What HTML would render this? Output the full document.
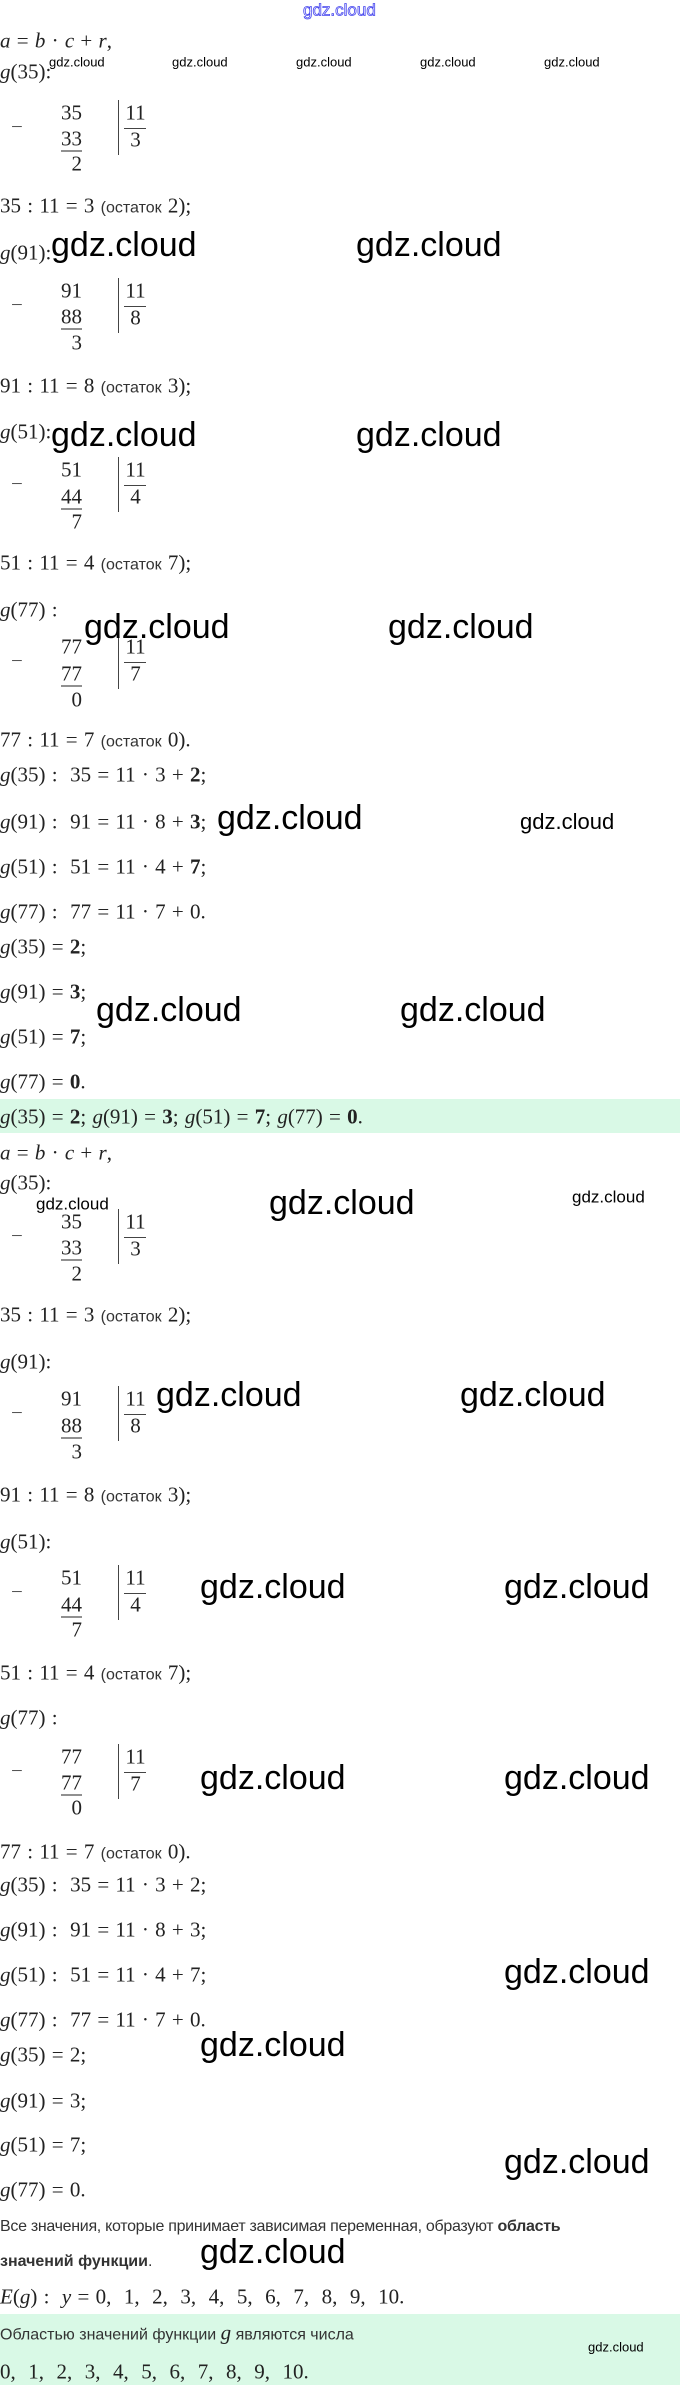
<!DOCTYPE html>
<html><head><meta charset="utf-8">
<style>
html,body{margin:0;padding:0;background:#fff;}
body{width:680px;height:2385px;position:relative;overflow:hidden;}
.t{position:absolute;transform:translateY(-50%);white-space:nowrap;line-height:1;}
.m{font-family:"Liberation Serif",serif;font-size:21px;color:#222;word-spacing:1px;}
.i{font-style:italic;}
.s{font-family:"Liberation Sans",sans-serif;font-size:16px;color:#333;}
.p{font-family:"Liberation Sans",sans-serif;font-size:15px;color:#333;}
.w{font-family:"Liberation Sans",sans-serif;color:#000;}
.W{font-family:"Liberation Sans",sans-serif;color:#000;font-size:34px;}
.r{width:23px;text-align:right;left:59px;}
.c{width:23px;text-align:center;left:124px;}
.u{border-bottom:1px solid #222;}
.v{position:absolute;left:118px;width:1px;background:#444;}
.h{position:absolute;left:124px;width:22px;height:1px;background:#444;}
.g{position:absolute;left:0;width:680px;background:#d9f9e6;}
.mi{color:#555;}
</style></head><body>

<div class="t w" style="left:303px;top:10px;font-size:17px;color:#fff;-webkit-text-stroke:0.8px #4444ee;">gdz.cloud</div>

<div class="t m" style="left:0;top:41px"><span class="i">a</span> = <span class="i">b</span> · <span class="i">c</span> + <span class="i">r</span>,</div>
<div class="t m" style="left:0;top:72px"><span class="i">g</span>(35):</div>
<div class="t w" style="left:49px;top:62px;font-size:13px">gdz.cloud</div>
<div class="t w" style="left:172px;top:62px;font-size:13px">gdz.cloud</div>
<div class="t w" style="left:296px;top:62px;font-size:13px">gdz.cloud</div>
<div class="t w" style="left:420px;top:62px;font-size:13px">gdz.cloud</div>
<div class="t w" style="left:544px;top:62px;font-size:13px">gdz.cloud</div>

<div class="t m mi" style="left:11px;top:127px">−</div>
<div class="t m r" style="top:113px">35</div>
<div class="t m r" style="top:139px"><span class="u">33</span></div>
<div class="t m r" style="top:164px">2</div>
<div class="v" style="top:100px;height:55px"></div>
<div class="t m c" style="top:113px">11</div>
<div class="h" style="top:128px"></div>
<div class="t m c" style="top:140px">3</div>
<div class="t m" style="left:0;top:206px">35 : 11 = 3 <span class="s">(остаток</span> 2);</div>

<div class="t m" style="left:0;top:253px"><span class="i">g</span>(91):</div>
<div class="t W" style="left:51px;top:245px">gdz.cloud</div>
<div class="t W" style="left:356px;top:245px">gdz.cloud</div>
<div class="t m mi" style="left:11px;top:305px">−</div>
<div class="t m r" style="top:291px">91</div>
<div class="t m r" style="top:317px"><span class="u">88</span></div>
<div class="t m r" style="top:343px">3</div>
<div class="v" style="top:278px;height:55px"></div>
<div class="t m c" style="top:291px">11</div>
<div class="h" style="top:306px"></div>
<div class="t m c" style="top:318px">8</div>
<div class="t m" style="left:0;top:386px">91 : 11 = 8 <span class="s">(остаток</span> 3);</div>

<div class="t m" style="left:0;top:432px"><span class="i">g</span>(51):</div>
<div class="t W" style="left:51px;top:435px">gdz.cloud</div>
<div class="t W" style="left:356px;top:435px">gdz.cloud</div>
<div class="t m mi" style="left:11px;top:484px">−</div>
<div class="t m r" style="top:470px">51</div>
<div class="t m r" style="top:497px"><span class="u">44</span></div>
<div class="t m r" style="top:522px">7</div>
<div class="v" style="top:457px;height:55px"></div>
<div class="t m c" style="top:470px">11</div>
<div class="h" style="top:485px"></div>
<div class="t m c" style="top:497px">4</div>
<div class="t m" style="left:0;top:563px">51 : 11 = 4 <span class="s">(остаток</span> 7);</div>

<div class="t m" style="left:0;top:610px"><span class="i">g</span>(77) :</div>
<div class="t m mi" style="left:11px;top:661px">−</div>
<div class="t m r" style="top:647px">77</div>
<div class="t m r" style="top:674px"><span class="u">77</span></div>
<div class="t m r" style="top:700px">0</div>
<div class="v" style="top:634px;height:55px"></div>
<div class="t m c" style="top:647px">11</div>
<div class="h" style="top:662px"></div>
<div class="t m c" style="top:674px">7</div>
<div class="t W" style="left:84px;top:627px">gdz.cloud</div>
<div class="t W" style="left:388px;top:627px">gdz.cloud</div>
<div class="t m" style="left:0;top:740px">77 : 11 = 7 <span class="s">(остаток</span> 0).</div>

<div class="t m" style="left:0;top:775px"><span class="i">g</span>(35) :&nbsp; 35 = 11 · 3 + <b>2</b>;</div>
<div class="t m" style="left:0;top:822px"><span class="i">g</span>(91) :&nbsp; 91 = 11 · 8 + <b>3</b>;</div>
<div class="t W" style="left:217px;top:818px">gdz.cloud</div>
<div class="t w" style="left:520px;top:822px;font-size:22px">gdz.cloud</div>
<div class="t m" style="left:0;top:867px"><span class="i">g</span>(51) :&nbsp; 51 = 11 · 4 + <b>7</b>;</div>
<div class="t m" style="left:0;top:912px"><span class="i">g</span>(77) :&nbsp; 77 = 11 · 7 + 0.</div>
<div class="t m" style="left:0;top:947px"><span class="i">g</span>(35) = <b>2</b>;</div>
<div class="t m" style="left:0;top:992px"><span class="i">g</span>(91) = <b>3</b>;</div>
<div class="t W" style="left:96px;top:1010px">gdz.cloud</div>
<div class="t W" style="left:400px;top:1010px">gdz.cloud</div>
<div class="t m" style="left:0;top:1037px"><span class="i">g</span>(51) = <b>7</b>;</div>
<div class="t m" style="left:0;top:1082px"><span class="i">g</span>(77) = <b>0</b>.</div>

<div class="g" style="top:1099px;height:34px"></div>
<div class="t m" style="left:0;top:1117px"><span class="i">g</span>(35) = <b>2</b>; <span class="i">g</span>(91) = <b>3</b>; <span class="i">g</span>(51) = <b>7</b>; <span class="i">g</span>(77) = <b>0</b>.</div>

<div class="t m" style="left:0;top:1153px"><span class="i">a</span> = <span class="i">b</span> · <span class="i">c</span> + <span class="i">r</span>,</div>
<div class="t m" style="left:0;top:1183px"><span class="i">g</span>(35):</div>
<div class="t w" style="left:36px;top:1204px;font-size:17px">gdz.cloud</div>
<div class="t W" style="left:269px;top:1203px">gdz.cloud</div>
<div class="t w" style="left:572px;top:1197px;font-size:17px">gdz.cloud</div>
<div class="t m mi" style="left:11px;top:1236px">−</div>
<div class="t m r" style="top:1222px">35</div>
<div class="t m r" style="top:1248px"><span class="u">33</span></div>
<div class="t m r" style="top:1274px">2</div>
<div class="v" style="top:1209px;height:55px"></div>
<div class="t m c" style="top:1222px">11</div>
<div class="h" style="top:1237px"></div>
<div class="t m c" style="top:1249px">3</div>
<div class="t m" style="left:0;top:1315px">35 : 11 = 3 <span class="s">(остаток</span> 2);</div>

<div class="t m" style="left:0;top:1362px"><span class="i">g</span>(91):</div>
<div class="t W" style="left:156px;top:1395px">gdz.cloud</div>
<div class="t W" style="left:460px;top:1395px">gdz.cloud</div>
<div class="t m mi" style="left:11px;top:1413px">−</div>
<div class="t m r" style="top:1399px">91</div>
<div class="t m r" style="top:1426px"><span class="u">88</span></div>
<div class="t m r" style="top:1452px">3</div>
<div class="v" style="top:1386px;height:55px"></div>
<div class="t m c" style="top:1399px">11</div>
<div class="h" style="top:1414px"></div>
<div class="t m c" style="top:1426px">8</div>
<div class="t m" style="left:0;top:1495px">91 : 11 = 8 <span class="s">(остаток</span> 3);</div>

<div class="t m" style="left:0;top:1542px"><span class="i">g</span>(51):</div>
<div class="t W" style="left:200px;top:1587px">gdz.cloud</div>
<div class="t W" style="left:504px;top:1587px">gdz.cloud</div>
<div class="t m mi" style="left:11px;top:1592px">−</div>
<div class="t m r" style="top:1578px">51</div>
<div class="t m r" style="top:1605px"><span class="u">44</span></div>
<div class="t m r" style="top:1630px">7</div>
<div class="v" style="top:1565px;height:55px"></div>
<div class="t m c" style="top:1578px">11</div>
<div class="h" style="top:1593px"></div>
<div class="t m c" style="top:1605px">4</div>
<div class="t m" style="left:0;top:1673px">51 : 11 = 4 <span class="s">(остаток</span> 7);</div>

<div class="t m" style="left:0;top:1718px"><span class="i">g</span>(77) :</div>
<div class="t W" style="left:200px;top:1778px">gdz.cloud</div>
<div class="t W" style="left:504px;top:1778px">gdz.cloud</div>
<div class="t m mi" style="left:11px;top:1771px">−</div>
<div class="t m r" style="top:1757px">77</div>
<div class="t m r" style="top:1783px"><span class="u">77</span></div>
<div class="t m r" style="top:1808px">0</div>
<div class="v" style="top:1744px;height:55px"></div>
<div class="t m c" style="top:1757px">11</div>
<div class="h" style="top:1772px"></div>
<div class="t m c" style="top:1784px">7</div>
<div class="t m" style="left:0;top:1852px">77 : 11 = 7 <span class="s">(остаток</span> 0).</div>

<div class="t m" style="left:0;top:1885px"><span class="i">g</span>(35) :&nbsp; 35 = 11 · 3 + 2;</div>
<div class="t m" style="left:0;top:1930px"><span class="i">g</span>(91) :&nbsp; 91 = 11 · 8 + 3;</div>
<div class="t W" style="left:504px;top:1972px">gdz.cloud</div>
<div class="t m" style="left:0;top:1975px"><span class="i">g</span>(51) :&nbsp; 51 = 11 · 4 + 7;</div>
<div class="t m" style="left:0;top:2020px"><span class="i">g</span>(77) :&nbsp; 77 = 11 · 7 + 0.</div>
<div class="t W" style="left:200px;top:2045px">gdz.cloud</div>
<div class="t m" style="left:0;top:2055px"><span class="i">g</span>(35) = 2;</div>
<div class="t m" style="left:0;top:2101px"><span class="i">g</span>(91) = 3;</div>
<div class="t m" style="left:0;top:2145px"><span class="i">g</span>(51) = 7;</div>
<div class="t W" style="left:504px;top:2162px">gdz.cloud</div>
<div class="t m" style="left:0;top:2190px"><span class="i">g</span>(77) = 0.</div>

<div class="t p" style="left:0;top:2227px;font-size:16px;letter-spacing:-0.3px">Все значения, которые принимает зависимая переменная, образуют <b>область</b></div>
<div class="t p" style="left:0;top:2262px;font-size:16px"><b>значений функции</b>.</div>
<div class="t W" style="left:200px;top:2252px">gdz.cloud</div>
<div class="t m" style="left:0;top:2297px"><span class="i">E</span>(<span class="i">g</span>) :&nbsp; <span class="i">y</span> = 0, &nbsp;1, &nbsp;2, &nbsp;3, &nbsp;4, &nbsp;5, &nbsp;6, &nbsp;7, &nbsp;8, &nbsp;9, &nbsp;10.</div>

<div class="g" style="top:2314px;height:71px"></div>
<div class="t p" style="left:0;top:2333px;font-size:16px">Областью значений функции <span class="m i">g</span> являются числа</div>
<div class="t w" style="left:588px;top:2347px;font-size:13px">gdz.cloud</div>
<div class="t m" style="left:0;top:2372px">0, &nbsp;1, &nbsp;2, &nbsp;3, &nbsp;4, &nbsp;5, &nbsp;6, &nbsp;7, &nbsp;8, &nbsp;9, &nbsp;10.</div>

</body></html>
